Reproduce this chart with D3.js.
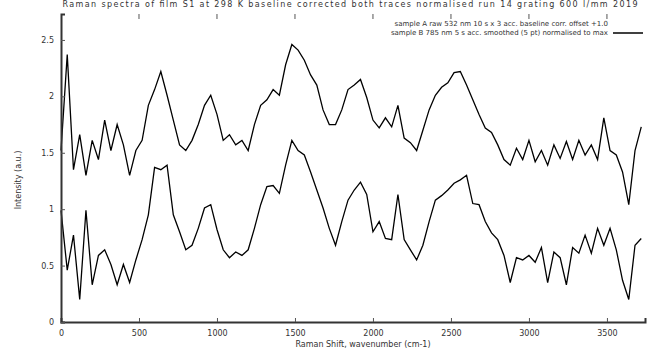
<!DOCTYPE html>
<html>
<head>
<meta charset="utf-8">
<script src="https://cdn.jsdelivr.net/npm/d3@7"></script>
<style>
  body { margin: 0; background: #fff; }
  text { font-family: "DejaVu Sans", sans-serif; fill: #333; }
</style>
</head>
<body>
<div id="chart"></div>
<script>
// sampling grid of the spectra (cm-1)
const shift = d3.range(0, 3760, 40);

// upper trace (raw, offset)
const upperSeries = [
  1.52, 2.37, 1.35, 1.66, 1.30, 1.61, 1.44, 1.79, 1.52, 1.75,
  1.57, 1.30, 1.52, 1.61, 1.92, 2.06, 2.22, 2.01, 1.79, 1.57,
  1.52, 1.61, 1.75, 1.92, 2.01, 1.84, 1.61, 1.66, 1.57, 1.61,
  1.52, 1.75, 1.92, 1.97, 2.06, 2.01, 2.28, 2.46, 2.41, 2.32,
  2.19, 2.10, 1.88, 1.75, 1.75, 1.88, 2.06, 2.10, 2.15, 1.99,
  1.79, 1.72, 1.81, 1.73, 1.92, 1.63, 1.59, 1.52, 1.70, 1.88,
  2.01, 2.08, 2.12, 2.21, 2.22, 2.10, 1.97, 1.84, 1.72, 1.68,
  1.57, 1.44, 1.39, 1.54, 1.44, 1.61, 1.42, 1.52, 1.39, 1.57,
  1.45, 1.60, 1.44, 1.61, 1.48, 1.57, 1.44, 1.81, 1.52, 1.48,
  1.33, 1.04, 1.52, 1.73
];

// lower trace
const lowerSeries = [
  0.99, 0.46, 0.77, 0.20, 0.99, 0.33, 0.59, 0.64, 0.51, 0.33,
  0.51, 0.35, 0.55, 0.73, 0.95, 1.37, 1.35, 1.39, 0.95, 0.80,
  0.64, 0.68, 0.83, 1.01, 1.04, 0.82, 0.64, 0.57, 0.62, 0.59,
  0.64, 0.83, 1.04, 1.20, 1.21, 1.14, 1.39, 1.61, 1.52, 1.48,
  1.33, 1.17, 1.01, 0.83, 0.68, 0.89, 1.08, 1.17, 1.24, 1.13,
  0.80, 0.89, 0.74, 0.73, 1.13, 0.73, 0.64, 0.55, 0.68, 0.89,
  1.08, 1.12, 1.17, 1.23, 1.26, 1.30, 1.05, 1.04, 0.89, 0.79,
  0.73, 0.59, 0.35, 0.57, 0.55, 0.59, 0.53, 0.66, 0.35, 0.62,
  0.57, 0.33, 0.66, 0.61, 0.77, 0.61, 0.83, 0.68, 0.83, 0.64,
  0.37, 0.20, 0.68, 0.74
];

const xTicks = [0, 500, 1000, 1500, 2000, 2500, 3000, 3500];
const yTicks = [0, 0.5, 1, 1.5, 2, 2.5];
const legendLabels = [
  'sample A raw  532 nm  10 s x 3 acc.  baseline corr.  offset +1.0',
  'sample B  785 nm  5 s acc.  smoothed (5 pt)  normalised to max  '
];
const titleText = 'Raman spectra of film S1 at 298 K     baseline corrected     ' +
  'both traces normalised     run 14     grating 600 l/mm     2019';

const width = 651;
const height = 351;
const margin = { top: 14, right: 6, bottom: 29, left: 61 };

const svg = d3.select('#chart')
  .append('svg')
  .attr('width', width)
  .attr('height', height);

const x = d3.scaleLinear()
  .domain([0, 3744])
  .range([margin.left, width - margin.right]);

const y = d3.scaleLinear()
  .domain([0, 2.73])
  .range([height - margin.bottom, margin.top]);

// title (sits at the very top, as in the original)
svg.append('text')
  .attr('x', (margin.left + width - 12) / 2)
  .attr('y', 7)
  .attr('text-anchor', 'middle')
  .attr('font-size', '8px')
  .attr('textLength', 575)
  .text(titleText);

// traces
const line = d3.line()
  .x((d, i) => x(shift[i]))
  .y(d => y(d));

const traces = svg.append('g').attr('class', 'traces');
[upperSeries, lowerSeries].forEach(series => {
  traces.append('path')
    .datum(series)
    .attr('fill', 'none')
    .attr('stroke', '#000')
    .attr('stroke-width', 1.3)
    .attr('stroke-linejoin', 'miter')
    .attr('d', line);
});

// axes: inward ticks, gnuplot-like
const xAxis = d3.axisBottom(x)
  .tickValues(xTicks)
  .tickSize(-4)
  .tickPadding(8)
  .tickFormat(d3.format('d'));

const gx = svg.append('g')
  .attr('transform', `translate(0,${height - margin.bottom})`)
  .call(xAxis);

const yAxis = d3.axisLeft(y)
  .tickValues(yTicks)
  .tickSize(-4)
  .tickPadding(7)
  .tickFormat(d => d);

const gy = svg.append('g')
  .attr('transform', `translate(${margin.left},0)`)
  .call(yAxis);

[gx, gy].forEach(g => {
  g.select('.domain')
    .attr('stroke', '#333')
    .attr('stroke-width', 2);
  g.selectAll('.tick line').attr('stroke', '#555');
  g.selectAll('.tick text')
    .attr('font-size', '8px')
    .attr('font-family', '"DejaVu Sans", sans-serif')
    .attr('fill', '#333');
});

// mirror ticks at the top edge
svg.append('g')
  .selectAll('line')
  .data(xTicks.slice(1))
  .join('line')
  .attr('x1', d => x(d))
  .attr('x2', d => x(d))
  .attr('y1', margin.top)
  .attr('y2', margin.top + 5)
  .attr('stroke', '#555');

// axis titles
svg.append('text')
  .attr('x', (margin.left + width - margin.right) / 2 + 10)
  .attr('y', height - 4)
  .attr('text-anchor', 'middle')
  .attr('font-size', '8px')
  .text('Raman Shift, wavenumber (cm-1)');

svg.append('text')
  .attr('transform', `translate(21,${(margin.top + height - margin.bottom) / 2 + 12}) rotate(-90)`)
  .attr('text-anchor', 'middle')
  .attr('font-size', '8px')
  .text('Intensity (a.u.)');

// legend, top right
const legend = svg.append('g').attr('class', 'legend');
legendLabels.forEach((label, i) => {
  const ly = 26 + i * 9;
  legend.append('text')
    .attr('x', 608)
    .attr('y', ly)
    .attr('text-anchor', 'end')
    .attr('font-size', '7px')
    .text(label);
});
legend.append('line')
  .attr('x1', 613)
  .attr('x2', 643)
  .attr('y1', 33)
  .attr('y2', 33)
  .attr('stroke', '#000')
  .attr('stroke-width', 1.5);
</script>
</body>
</html>
